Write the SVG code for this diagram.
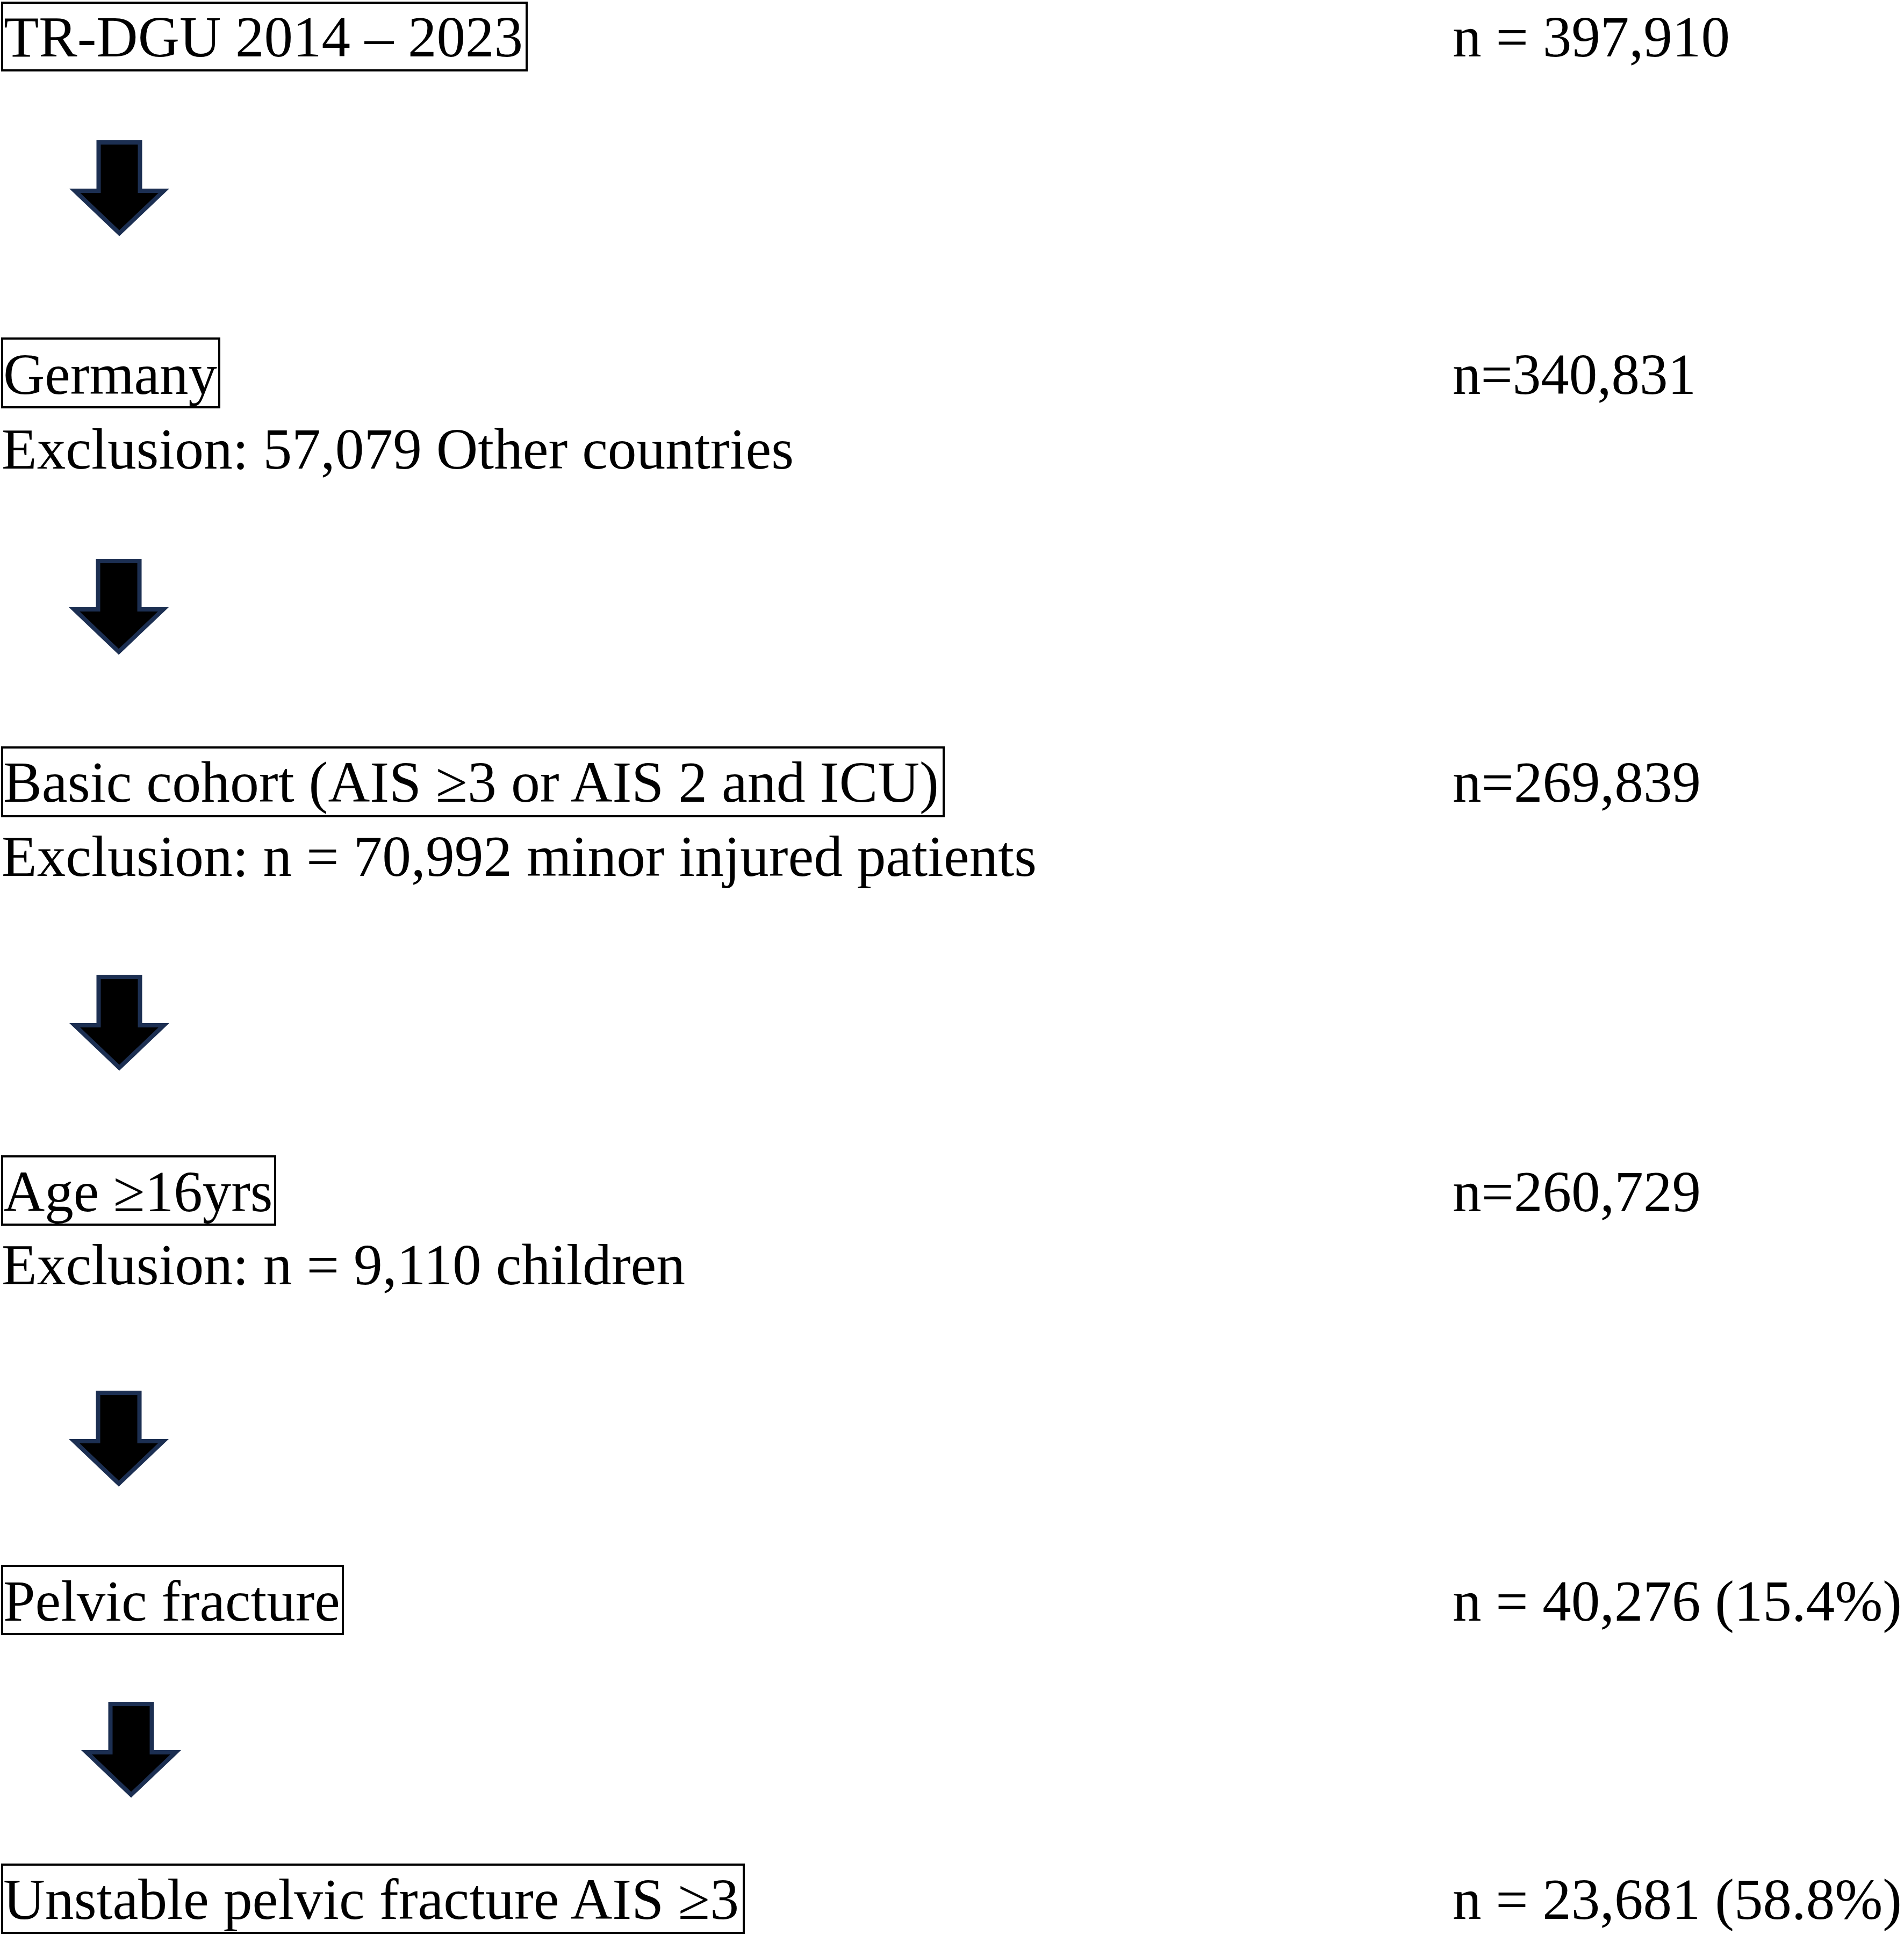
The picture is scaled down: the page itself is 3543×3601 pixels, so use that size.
<svg xmlns="http://www.w3.org/2000/svg" xmlns:xlink="http://www.w3.org/1999/xlink" width="3543" height="3601" viewBox="0 0 3543 3601">
<style>
  .t { font-family: "Liberation Serif", "Times New Roman", serif; font-size: 107px; fill: #000; }
  .box { fill: none; stroke: #000; stroke-width: 4; }
  .arrow { fill: #000; stroke: #1c2f52; stroke-width: 8; stroke-linejoin: miter; }
</style>
<defs>
  <path id="downArrow" class="arrow" d="M -38.5 0 H 38.5 V 90 H 83 L 0 169 L -83 90 H -38.5 Z"/>
</defs>
<rect x="0" y="0" width="3543" height="3601" fill="#fff"/>

<g id="node-trdgu">
  <rect class="box" x="4" y="5" width="976" height="126"/>
  <text class="t" x="7" y="105">TR-DGU 2014 – 2023</text>
  <text class="t" x="2703" y="105" textLength="516" lengthAdjust="spacingAndGlyphs">n = 397,910</text>
</g>

<g id="node-germany">
  <rect class="box" x="4" y="630" width="404" height="128"/>
  <text class="t" x="6" y="733">Germany</text>
  <text class="t" x="3" y="872" textLength="1474" lengthAdjust="spacingAndGlyphs">Exclusion: 57,079 Other countries</text>
  <text class="t" x="2703" y="733" textLength="453" lengthAdjust="spacingAndGlyphs">n=340,831</text>
</g>

<g id="node-basic">
  <rect class="box" x="4" y="1391" width="1752" height="128"/>
  <text class="t" x="6" y="1492" textLength="1741" lengthAdjust="spacingAndGlyphs">Basic cohort (AIS ≥3 or AIS 2 and ICU)</text>
  <text class="t" x="3" y="1630" textLength="1926" lengthAdjust="spacingAndGlyphs">Exclusion: n = 70,992 minor injured patients</text>
  <text class="t" x="2703" y="1492" textLength="462" lengthAdjust="spacingAndGlyphs">n=269,839</text>
</g>

<g id="node-age">
  <rect class="box" x="4" y="2152" width="508" height="127"/>
  <text class="t" x="6" y="2254">Age ≥16yrs</text>
  <text class="t" x="3" y="2390" textLength="1272" lengthAdjust="spacingAndGlyphs">Exclusion: n = 9,110 children</text>
  <text class="t" x="2703" y="2254" textLength="462" lengthAdjust="spacingAndGlyphs">n=260,729</text>
</g>

<g id="node-pelvic">
  <rect class="box" x="4" y="2914" width="634" height="127"/>
  <text class="t" x="6" y="3016">Pelvic fracture</text>
  <text class="t" x="2703" y="3016" textLength="836" lengthAdjust="spacingAndGlyphs">n = 40,276 (15.4%)</text>
</g>

<g id="node-unstable">
  <rect class="box" x="4" y="3470" width="1380" height="127"/>
  <text class="t" x="6" y="3571" textLength="1369" lengthAdjust="spacingAndGlyphs">Unstable pelvic fracture AIS ≥3</text>
  <text class="t" x="2703" y="3571" textLength="836" lengthAdjust="spacingAndGlyphs">n = 23,681 (58.8%)</text>
</g>

<g id="connectors">
  <use xlink:href="#downArrow" href="#downArrow" transform="translate(222,265)"/>
  <use xlink:href="#downArrow" href="#downArrow" transform="translate(221,1044)"/>
  <use xlink:href="#downArrow" href="#downArrow" transform="translate(222,1818)"/>
  <use xlink:href="#downArrow" href="#downArrow" transform="translate(221,2592)"/>
  <use xlink:href="#downArrow" href="#downArrow" transform="translate(244,3171)"/>
</g>
</svg>
